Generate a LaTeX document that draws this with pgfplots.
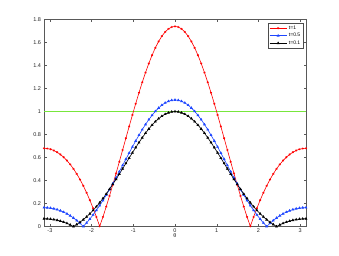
\documentclass[border=0pt]{standalone}
\usepackage{fontspec}
\setmainfont{Liberation Sans}
\usepackage{pgfplots}
\usepackage{pgfplotstable}
\pgfplotsset{compat=1.18}
\definecolor{mgreen}{RGB}{120,230,60}
\definecolor{mblue}{RGB}{30,70,255}
\pgfplotstableread{
x r b k
-3.1416 0.680 0.1645 0.0675
-3.0631 0.6779 0.1635 0.0667
-2.9845 0.6716 0.1603 0.0644
-2.9060 0.6610 0.1550 0.0605
-2.8274 0.6460 0.1475 0.0550
-2.7489 0.6266 0.1377 0.0477
-2.6704 0.6025 0.1257 0.0386
-2.5918 0.5738 0.1112 0.0277
-2.5133 0.5401 0.0942 0.0147
-2.4347 0.5015 0.0745 0.0004
-2.3562 0.4576 0.0523 0.0178
-2.2777 0.4085 0.0272 0.0374
-2.1991 0.3540 0.0007 0.0595
-2.1206 0.2942 0.0314 0.0840
-2.0420 0.2289 0.0649 0.1111
-1.9635 0.1584 0.1013 0.1406
-1.8850 0.0827 0.1405 0.1727
-1.8064 0.0021 0.1823 0.2072
-1.7279 0.0832 0.2266 0.2440
-1.6493 0.1727 0.2733 0.2830
-1.5708 0.2660 0.3220 0.3240
-1.4923 0.3626 0.3725 0.3667
-1.4137 0.4617 0.4245 0.4109
-1.3352 0.5629 0.4776 0.4563
-1.2566 0.6651 0.5314 0.5024
-1.1781 0.7677 0.5854 0.5490
-1.0996 0.8697 0.6392 0.5955
-1.0210 0.9703 0.6923 0.6415
-0.9425 1.0684 0.7442 0.6867
-0.8639 1.1632 0.7944 0.7304
-0.7854 1.2536 0.8423 0.7722
-0.7069 1.3388 0.8874 0.8118
-0.6283 1.4177 0.9293 0.8486
-0.5498 1.4896 0.9674 0.8821
-0.4712 1.5537 1.0015 0.9121
-0.3927 1.6092 1.0310 0.9381
-0.3142 1.6556 1.0556 0.9598
-0.2356 1.6922 1.0751 0.9770
-0.1571 1.7186 1.0891 0.9895
-0.0785 1.7347 1.0977 0.9970
0.0000 1.7400 1.1005 0.9995
0.0785 1.7347 1.0977 0.9970
0.1571 1.7186 1.0891 0.9895
0.2356 1.6922 1.0751 0.9770
0.3142 1.6556 1.0556 0.9598
0.3927 1.6092 1.0310 0.9381
0.4712 1.5537 1.0015 0.9121
0.5498 1.4896 0.9674 0.8821
0.6283 1.4177 0.9293 0.8486
0.7069 1.3388 0.8874 0.8118
0.7854 1.2536 0.8423 0.7722
0.8639 1.1632 0.7944 0.7304
0.9425 1.0684 0.7442 0.6867
1.0210 0.9703 0.6923 0.6415
1.0996 0.8697 0.6392 0.5955
1.1781 0.7677 0.5854 0.5490
1.2566 0.6651 0.5314 0.5024
1.3352 0.5629 0.4776 0.4563
1.4137 0.4617 0.4245 0.4109
1.4923 0.3626 0.3725 0.3667
1.5708 0.2660 0.3220 0.3240
1.6493 0.1727 0.2733 0.2830
1.7279 0.0832 0.2266 0.2440
1.8064 0.0021 0.1823 0.2072
1.8850 0.0827 0.1405 0.1727
1.9635 0.1584 0.1013 0.1406
2.0420 0.2289 0.0649 0.1111
2.1206 0.2942 0.0314 0.0840
2.1991 0.3540 0.0007 0.0595
2.2777 0.4085 0.0272 0.0374
2.3562 0.4576 0.0523 0.0178
2.4347 0.5015 0.0745 0.0004
2.5133 0.5401 0.0942 0.0147
2.5918 0.5738 0.1112 0.0277
2.6704 0.6025 0.1257 0.0386
2.7489 0.6266 0.1377 0.0477
2.8274 0.6460 0.1475 0.0550
2.9060 0.6610 0.1550 0.0605
2.9845 0.6716 0.1603 0.0644
3.0631 0.6779 0.1635 0.0667
3.1416 0.6800 0.1645 0.0675
}\datatable
\begin{document}
\begin{tikzpicture}
\useasboundingbox (0,0) rectangle (339pt,255pt);
\begin{axis}[
  at={(44pt,28.5pt)}, anchor=south west,
  scale only axis, width=262pt, height=207pt,
  xmin=-3.1416, xmax=3.1416, ymin=0, ymax=1.8,
  xtick={-3,-2,-1,0,1,2,3},
  ytick={0,0.2,0.4,0.6,0.8,1,1.2,1.4,1.6,1.8},
  yticklabels={0,0.2,0.4,0.6,0.8,1,1.2,1.4,1.6,1.8},
  /pgf/number format/assume math mode=true,
  tick align=inside, tick pos=both, major tick length=2.5pt,
  axis line style={black!65, line width=0.5pt},
  tick style={black!65, line width=0.4pt},
  ticklabel style={font=\fontsize{5.5}{6}\selectfont, color=black!85},
  xticklabel style={yshift=1pt},
  yticklabel style={xshift=0.5pt},
  xlabel={θ},
  xlabel style={font=\fontsize{5.5}{6}\selectfont, color=black!85, yshift=6pt},
  legend style={at={(1,1)}, anchor=north east, xshift=-2.5pt, yshift=-3pt,
    font=\fontsize{5}{5.5}\selectfont, draw=black!70, line width=0.5pt,
    inner sep=1pt, row sep=-1.5pt},
  legend cell align=left,
  legend image post style={sharp plot},
]
\addplot[mgreen, line width=0.8pt, forget plot] coordinates {(-3.1416,1) (3.1416,1)};
\addplot[red, line width=0.6pt, mark=asterisk, mark size=1.1pt, mark options={line width=0.4pt}] table[x=x,y=r]{\datatable};
\addlegendentry{t=1}
\addplot[mblue, line width=0.6pt, mark=triangle*, mark size=1.1pt] table[x=x,y=b]{\datatable};
\addlegendentry{t=0.5}
\addplot[black, line width=0.6pt, mark=triangle*, mark size=1.1pt] table[x=x,y=k]{\datatable};
\addlegendentry{t=0.1}
\end{axis}
\end{tikzpicture}
\end{document}
